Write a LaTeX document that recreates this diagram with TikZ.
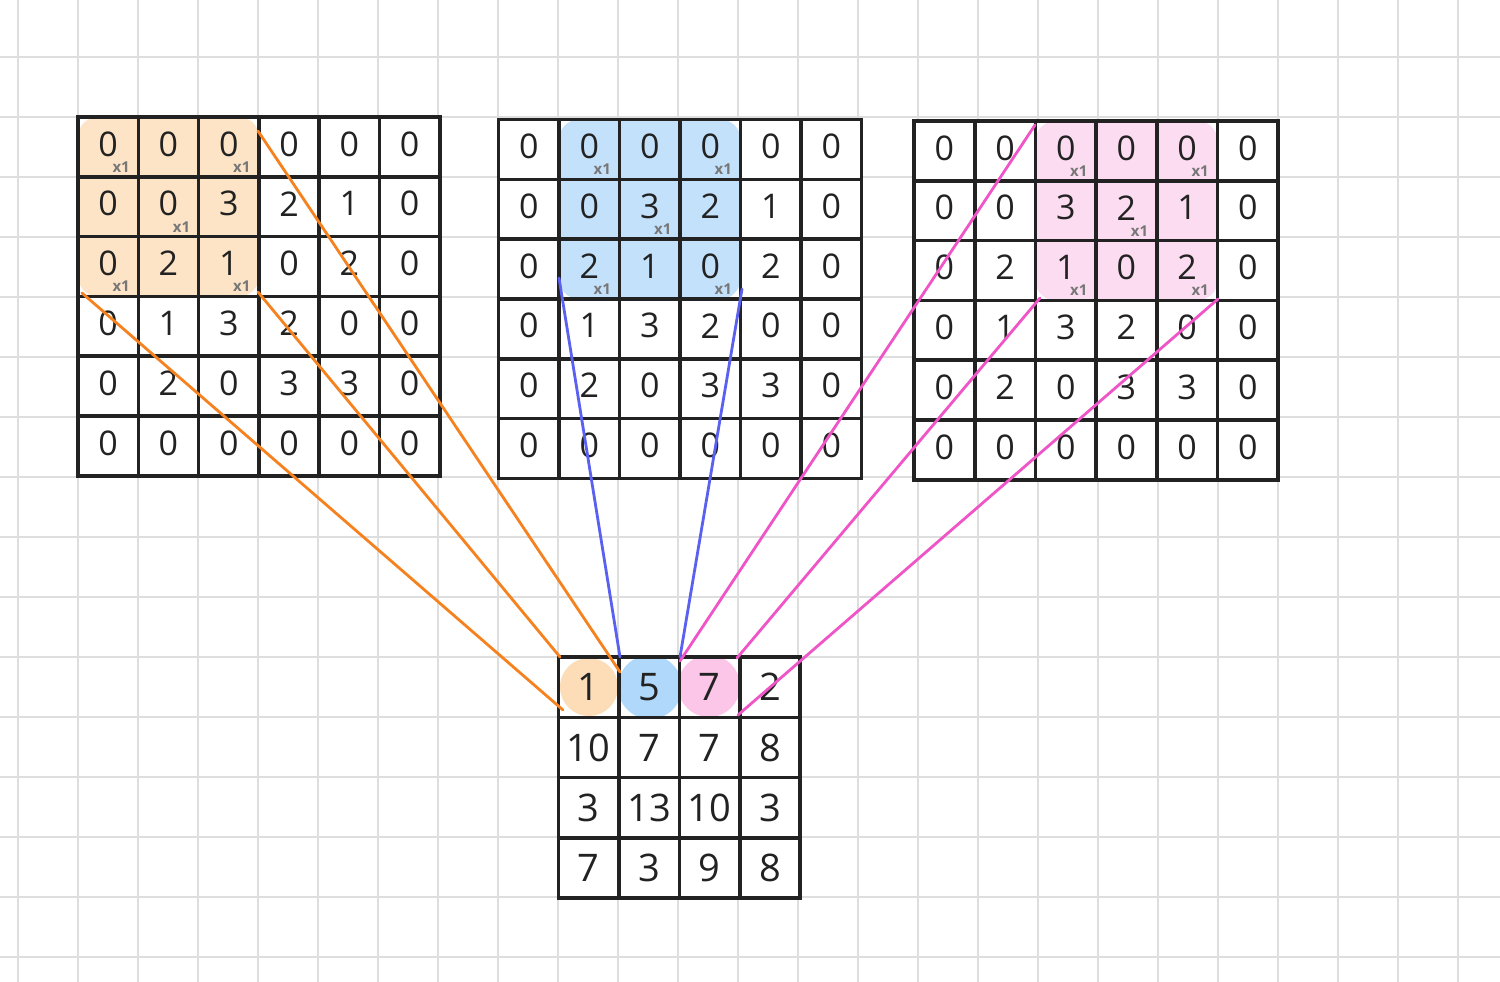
\documentclass[tikz,border=0pt]{standalone}
\usepackage{fontspec}
\setmainfont{Open Sans}
\definecolor{bggrid}{HTML}{DEDEDE}
\definecolor{ink}{HTML}{222222}
\definecolor{xgray}{HTML}{777777}
\definecolor{orhl}{HTML}{FDE4C6}
\definecolor{blhl}{HTML}{C3E1FB}
\definecolor{pkhl}{HTML}{FCDCF0}
\definecolor{orcirc}{HTML}{FCDDB8}
\definecolor{blcirc}{HTML}{B0D8FA}
\definecolor{pkcirc}{HTML}{FBC6E8}
\definecolor{orline}{HTML}{F5821F}
\definecolor{blline}{HTML}{5A60F0}
\definecolor{pkline}{HTML}{EF55C6}
\tikzset{
  bgline/.style={draw=bggrid, line width=2pt},
  matline/.style={draw=ink, line width=3.6pt, line cap=rect},
  digit/.style={text=ink, font=\fontsize{34}{34}\selectfont, inner sep=0pt},
  bigdigit/.style={text=ink, font=\fontsize{38}{38}\selectfont, inner sep=0pt},
  xone/.style={text=xgray, font=\fontsize{15}{15}\selectfont\bfseries, inner sep=0pt},
  conn/.style={line width=2.8pt, line cap=round},
}
\newcommand\drawmat[5]{% name, x0, y0, cw, ch
  \fill[white] (#2,#3) rectangle ({#2+6*#4},{#3+6*#5});
}
\newcommand\matdigits[6]{%
  \foreach \row [count=\r from 0] in {#6} {
    \foreach \v [count=\c from 0] in \row {
      \node[digit] (#1-\r-\c) at ({#2+(\c+0.5)*#4},{#3+(\r+0.5)*#5-3}) {\v};
    }
  }
}
\newcommand\matlines[5]{%
  \foreach \i in {0,...,6} {
    \draw[matline] ({#2+\i*#4},#3) -- ({#2+\i*#4},{#3+6*#5});
    \draw[matline] (#2,{#3+\i*#5}) -- ({#2+6*#4},{#3+\i*#5});
  }
}
\newcommand\xones[6]{% name,x0,y0,cw,ch, col offset
  \foreach \r/\c [count=\k] in {0/0,0/2,1/1,2/0,2/2} {
    \node[xone] (#1-x\k) at ({#2+(\c+#6+0.5)*#4+13},{#3+(\r+0.5)*#5+20}) {x1};
  }
}
\begin{document}
\begin{tikzpicture}[x=1pt,y=-1pt]
\useasboundingbox (0,0) rectangle (1500,982);
\fill[white] (0,0) rectangle (1500,982);
% background grid
\foreach \i in {0,...,24} { \draw[bgline] ({17.7+60*\i},0) -- ({17.7+60*\i},982); }
\foreach \j in {1,...,16} { \draw[bgline] (0,{-2.7+60*\j}) -- (1500,{-2.7+60*\j}); }

% left matrix
\drawmat{L}{78}{117}{60.3}{59.8}
\fill[orhl, rounded corners=20pt] (78,117) rectangle (259,296.4);
\matdigits{L}{78}{117}{60.3}{59.8}{{0,0,0,0,0,0},{0,0,3,2,1,0},{0,2,1,0,2,0},{0,1,3,2,0,0},{0,2,0,3,3,0},{0,0,0,0,0,0}}
\matlines{L}{78}{117}{60.3}{59.8}
\xones{L}{78}{117}{60.3}{59.8}{0}

% middle matrix
\drawmat{M}{498.5}{119.5}{60.5}{59.8}
\fill[blhl, rounded corners=20pt] (559,119.5) rectangle (740.5,299);
\matdigits{M}{498.5}{119.5}{60.5}{59.8}{{0,0,0,0,0,0},{0,0,3,2,1,0},{0,2,1,0,2,0},{0,1,3,2,0,0},{0,2,0,3,3,0},{0,0,0,0,0,0}}
\matlines{M}{498.5}{119.5}{60.5}{59.8}
\xones{M}{498.5}{119.5}{60.5}{59.8}{1}

% right matrix
\drawmat{R}{914}{121}{60.7}{59.8}
\fill[pkhl, rounded corners=20pt] (1035.4,121) rectangle (1217.5,300.4);
\matdigits{R}{914}{121}{60.7}{59.8}{{0,0,0,0,0,0},{0,0,3,2,1,0},{0,2,1,0,2,0},{0,1,3,2,0,0},{0,2,0,3,3,0},{0,0,0,0,0,0}}
\matlines{R}{914}{121}{60.7}{59.8}
\xones{R}{914}{121}{60.7}{59.8}{2}

% output matrix
\fill[white] (558.5,657) rectangle (800,898.3);
\fill[orcirc] (589,687) circle (29);
\fill[blcirc] (650,687) circle (32);
\fill[pkcirc] (709,686) circle (31);
\foreach \row [count=\r from 0] in {{1,5,7,2},{10,7,7,8},{3,13,10,3},{7,3,9,8}} {
  \foreach \v [count=\c from 0] in \row {
    \node[bigdigit] (O-\r-\c) at ({558.5+(\c+0.5)*60.4},{657+(\r+0.5)*60.3}) {\v};
  }
}
\foreach \i in {0,...,4} {
  \draw[matline] ({558.5+\i*60.4},657) -- ({558.5+\i*60.4},898.3);
  \draw[matline] (558.5,{657+\i*60.3}) -- (800,{657+\i*60.3});
}

% connector end points
\coordinate (oa1) at (258,131);   \coordinate (ob1) at (620,672);
\coordinate (oa2) at (258,292);   \coordinate (ob2) at (560,657);
\coordinate (oa3) at (82,293);    \coordinate (ob3) at (563,710);
\coordinate (ba1) at (559,278);   \coordinate (bb1) at (620,657);
\coordinate (ba2) at (742,289);   \coordinate (bb2) at (680,657);
\coordinate (pa1) at (1035,125);  \coordinate (pb1) at (680,661);
\coordinate (pa2) at (1040,298);  \coordinate (pb2) at (737,658);
\coordinate (pa3) at (1218,299);  \coordinate (pb3) at (738,715);

\draw[conn, orline] (oa1) -- (ob1);
\draw[conn, orline] (oa2) -- (ob2);
\draw[conn, orline] (oa3) -- (ob3);
\draw[conn, blline] (ba1) -- (bb1);
\draw[conn, blline] (ba2) -- (bb2);
\draw[conn, pkline] (pa1) -- (pb1);
\draw[conn, pkline] (pa2) -- (pb2);
\draw[conn, pkline] (pa3) -- (pb3);
\end{tikzpicture}
\end{document}
